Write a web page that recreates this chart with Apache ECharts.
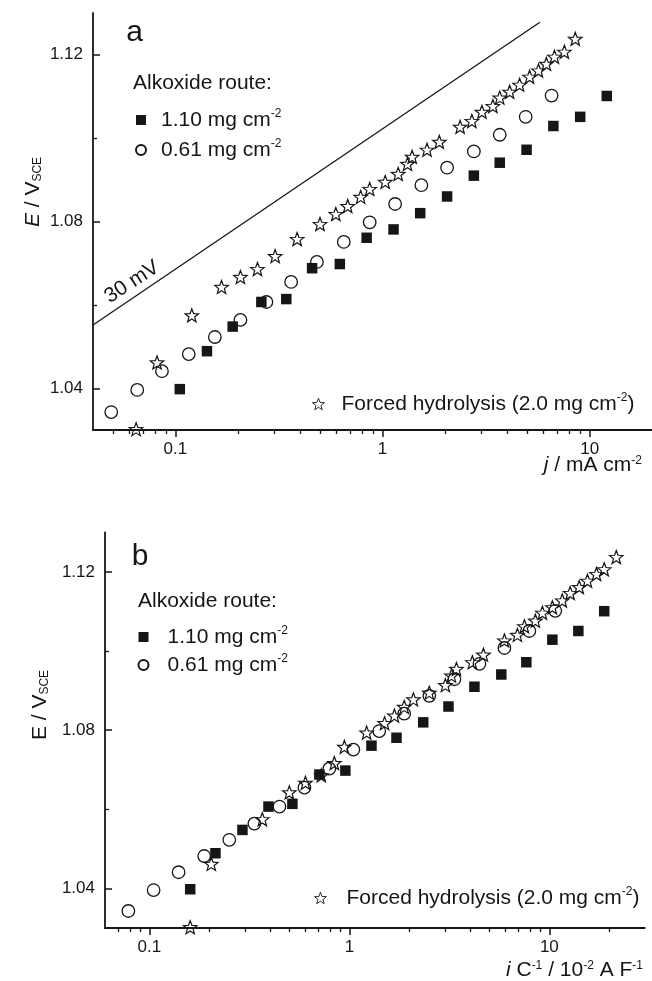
<!DOCTYPE html>
<html>
<head>
<meta charset="utf-8">
<script src="https://cdn.jsdelivr.net/npm/echarts@6/dist/echarts.min.js"></script>
<style>
  html, body { margin: 0; padding: 0; background: #fff; }
  #chart { width: 652px; height: 981px; }
</style>
</head>
<body>
<div id="chart"></div>
<script>
// Potentials E (V vs SCE), shared by both panels for each electrode
const squareE = [1.0398, 1.0489, 1.0548, 1.0607, 1.0614, 1.0688, 1.0698, 1.0761, 1.0781, 1.0820, 1.0860, 1.0910, 1.0941, 1.0972, 1.1029, 1.1051, 1.1101];
const circleE = [1.0343, 1.0396, 1.0441, 1.0482, 1.0523, 1.0564, 1.0607, 1.0655, 1.0703, 1.0751, 1.0798, 1.0842, 1.0887, 1.0929, 1.0968, 1.1008, 1.1051, 1.1102];
const starE = [1.0302, 1.0462, 1.0575, 1.0643, 1.0667, 1.0686, 1.0717, 1.0758, 1.0794, 1.0818, 1.0837, 1.0859, 1.0878, 1.0895, 1.0914, 1.0938, 1.0955, 1.0972, 1.0991, 1.1027, 1.1041, 1.1063, 1.1077, 1.1097, 1.1111, 1.1128, 1.1147, 1.1162, 1.1178, 1.1195, 1.1207, 1.1238];

// Panel a: current density j (mA cm-2)
const squareJ = [0.105, 0.142, 0.189, 0.260, 0.343, 0.457, 0.622, 0.838, 1.13, 1.52, 2.05, 2.76, 3.68, 4.96, 6.68, 9.0, 12.1];
const circleJ = [0.049, 0.0654, 0.0861, 0.116, 0.155, 0.206, 0.275, 0.362, 0.482, 0.650, 0.867, 1.15, 1.54, 2.05, 2.76, 3.68, 4.91, 6.55];
const starJ = [0.0646, 0.0815, 0.120, 0.167, 0.206, 0.249, 0.303, 0.387, 0.499, 0.595, 0.679, 0.784, 0.867, 1.03, 1.19, 1.32, 1.39, 1.64, 1.88, 2.37, 2.70, 3.02, 3.41, 3.68, 4.11, 4.59, 5.13, 5.66, 6.18, 6.76, 7.55, 8.52];

// Panel b: capacitance-normalised current i/C (10^-2 A F-1)
const squareIC = [0.160, 0.214, 0.292, 0.394, 0.519, 0.708, 0.955, 1.29, 1.72, 2.34, 3.13, 4.22, 5.75, 7.67, 10.35, 13.96, 18.8];
const circleIC = [0.0785, 0.105, 0.140, 0.188, 0.251, 0.335, 0.447, 0.596, 0.794, 1.047, 1.41, 1.88, 2.51, 3.35, 4.47, 5.96, 7.94, 10.7];
const starIC = [0.160, 0.204, 0.367, 0.501, 0.603, 0.724, 0.841, 0.944, 1.22, 1.50, 1.68, 1.88, 2.09, 2.51, 3.02, 3.24, 3.43, 4.12, 4.68, 5.96, 6.92, 7.50, 8.51, 9.23, 10.35, 11.6, 12.7, 14.1, 15.5, 17.2, 18.8, 21.6];

// 30 mV per decade guide line in panel a
const guideJ = [0.04, 5.75];
const guideE = [1.0552, 1.1278];

// Axis ranges and ticks
const jRange = [0.04, 20];
const icRange = [0.06, 30];
const eRange = [1.03, 1.13];
const decadeTicks = [0.1, 1, 10];
const jMinorTicks = [0.05, 0.06, 0.07, 0.08, 0.09, 0.2, 0.3, 0.4, 0.5, 0.6, 0.7, 0.8, 0.9, 2, 3, 4, 5, 6, 7, 8, 9];
const icMinorTicks = [0.07, 0.08, 0.09, 0.2, 0.3, 0.4, 0.5, 0.6, 0.7, 0.8, 0.9, 2, 3, 4, 5, 6, 7, 8, 9, 20];
const eTicks = [1.04, 1.08, 1.12];
const eMinorTicks = [1.06, 1.10];

const NAME_SQ = '1.10 mg cm-2';
const NAME_CI = '0.61 mg cm-2';
const NAME_ST = 'Forced hydrolysis (2.0 mg cm-2)';

const FONT = '"Liberation Sans", Arial, Helvetica, sans-serif';
const INK = '#161616';
const STAR = 'path://M0,-10L2.47,-3.4L9.51,-3.09L3.99,1.3L5.88,8.09L0,4.2L-5.88,8.09L-3.99,1.3L-9.51,-3.09L-2.47,-3.4Z';

const pairs = (xs, ys) => xs.map((x, i) => [x, ys[i]]);
const supRich = { fontFamily: FONT, fontSize: 12, lineHeight: 12, verticalAlign: 'top', color: INK };

function xAxes(grid, range, minor) {
  return [
    {
      type: 'log', logBase: 10, gridIndex: grid, position: 'bottom', min: range[0], max: range[1],
      axisLine: { show: true, lineStyle: { color: INK, width: 1.8 } },
      axisTick: { show: true, customValues: decadeTicks, length: 7, lineStyle: { color: INK, width: 1.5 } },
      axisLabel: {
        customValues: decadeTicks, margin: 11, color: INK, fontFamily: FONT, fontSize: 17,
        formatter: v => String(Number(Number(v).toPrecision(3)))
      },
      splitLine: { show: false }, minorTick: { show: false }
    },
    {
      type: 'log', logBase: 10, gridIndex: grid, position: 'bottom', offset: 0, min: range[0], max: range[1],
      axisLine: { show: false },
      axisTick: { show: true, customValues: minor, length: 4, lineStyle: { color: INK, width: 1.3 } },
      axisLabel: { show: false },
      splitLine: { show: false }, minorTick: { show: false }
    }
  ];
}

function yAxes(grid) {
  return [
    {
      type: 'value', gridIndex: grid, position: 'left', min: eRange[0], max: eRange[1],
      axisLine: { show: true, lineStyle: { color: INK, width: 1.8 } },
      axisTick: { show: true, inside: true, customValues: eTicks, length: 7, lineStyle: { color: INK, width: 1.5 } },
      axisLabel: {
        customValues: eTicks, margin: 10, color: INK, fontFamily: FONT, fontSize: 17,
        formatter: v => Number(v).toFixed(2)
      },
      splitLine: { show: false }
    },
    {
      type: 'value', gridIndex: grid, position: 'left', offset: 0, min: eRange[0], max: eRange[1],
      axisLine: { show: false },
      axisTick: { show: true, inside: true, customValues: eMinorTicks, length: 4, lineStyle: { color: INK, width: 1.3 } },
      axisLabel: { show: false },
      splitLine: { show: false }
    }
  ];
}

function scatterSet(axisIdx, xsSq, xsCi, xsSt) {
  return [
    {
      type: 'scatter', name: NAME_CI, xAxisIndex: axisIdx, yAxisIndex: axisIdx,
      data: pairs(xsCi, circleE), symbol: 'circle', symbolSize: 12.5, z: 2,
      itemStyle: { color: 'rgba(255,255,255,0)', borderColor: INK, borderWidth: 1.3, opacity: 1 },
      emphasis: { disabled: true }
    },
    {
      type: 'scatter', name: NAME_SQ, xAxisIndex: axisIdx, yAxisIndex: axisIdx,
      data: pairs(xsSq, squareE), symbol: 'rect', symbolSize: 10.5, z: 3,
      itemStyle: { color: INK, opacity: 1 },
      emphasis: { disabled: true }
    },
    {
      type: 'scatter', name: NAME_ST, xAxisIndex: axisIdx, yAxisIndex: axisIdx,
      data: pairs(xsSt, starE), symbol: STAR, symbolSize: [13.5, 13], z: 4,
      itemStyle: { color: 'rgba(255,255,255,0)', borderColor: INK, borderWidth: 1.2, opacity: 1 },
      emphasis: { disabled: true }
    }
  ];
}

const legendText = (pad) => ({
  fontFamily: FONT, fontSize: 21, color: INK, lineHeight: 24, padding: [0, 0, 0, pad],
  rich: { sup: supRich }
});
const legendFmt = name => name.replace('cm-2', 'cm{sup|-2}');

function legend(left, top, gap, pad, names, size, style) {
  return {
    orient: 'vertical', left: left, top: top, itemWidth: size, itemHeight: size, itemGap: gap,
    selectedMode: false, data: names, textStyle: legendText(pad), formatter: legendFmt,
    itemStyle: style || {}
  };
}

function label(x, y, text, size, opts) {
  return Object.assign({
    type: 'text', x: x, y: y, silent: true,
    style: Object.assign({
      text: text, fill: INK, font: size + 'px ' + FONT, align: 'left', verticalAlign: 'middle'
    }, (opts && opts.style) || {})
  }, (opts && opts.el) || {});
}

const titleRich = {
  i: { fontFamily: FONT, fontSize: 21, fontStyle: 'italic', color: INK },
  n: { fontFamily: FONT, fontSize: 21, color: INK },
  sup: supRich,
  sub: { fontFamily: FONT, fontSize: 12, lineHeight: 12, verticalAlign: 'bottom', color: INK }
};

const chart = echarts.init(document.getElementById('chart'), null, { renderer: 'canvas' });
chart.setOption({
  animation: false,
  backgroundColor: '#ffffff',
  grid: [
    { left: 93, top: 13, height: 417, right: -2.4 },
    { left: 105, top: 532.5, height: 395.5, right: 7.2 }
  ],
  xAxis: [...xAxes(0, jRange, jMinorTicks), ...xAxes(1, icRange, icMinorTicks)],
  yAxis: [...yAxes(0), ...yAxes(1)],
  legend: [
    legend(130, 103, 6, 10, [NAME_SQ, NAME_CI], 10),
    legend(307, 387, 6, 12, [NAME_ST], 12, { borderWidth: 0.9 }),
    legend(132.5, 620, 4, 14, [NAME_SQ, NAME_CI], 10),
    legend(309, 881, 6, 15, [NAME_ST], 12, { borderWidth: 0.9 })
  ],
  series: [
    {
      type: 'line', name: '30 mV', xAxisIndex: 0, yAxisIndex: 0, data: pairs(guideJ, guideE),
      symbol: 'none', silent: true, z: 1, lineStyle: { color: INK, width: 1.3 }
    },
    ...scatterSet(0, squareJ, circleJ, starJ),
    ...scatterSet(2, squareIC, circleIC, starIC)
  ],
  graphic: [
    label(134.5, 33, 'a', 30, { style: { align: 'center' } }),
    label(140, 557, 'b', 30, { style: { align: 'center' } }),
    label(133, 83, 'Alkoxide route:', 21),
    label(138, 601, 'Alkoxide route:', 21),
    label(132, 282, '30 mV', 21, { style: { align: 'center' }, el: { rotation: 33 * Math.PI / 180 } }),
    label(33, 192, '{i|E}{n| / V}{sub|SCE}', 22, { style: { align: 'center', rich: titleRich }, el: { rotation: Math.PI / 2 } }),
    label(40, 705, '{n|E / V}{sub|SCE}', 22, { style: { align: 'center', rich: titleRich }, el: { rotation: Math.PI / 2 } }),
    label(642, 465, '{i|j}{n| / mA cm}{sup|-2}', 21, { style: { align: 'right', rich: titleRich } }),
    label(643, 970, '{i|i}{n| C}{sup|-1}{n| / 10}{sup|-2}{n| A F}{sup|-1}', 21, { style: { align: 'right', rich: titleRich } })
  ]
});
</script>
</body>
</html>
